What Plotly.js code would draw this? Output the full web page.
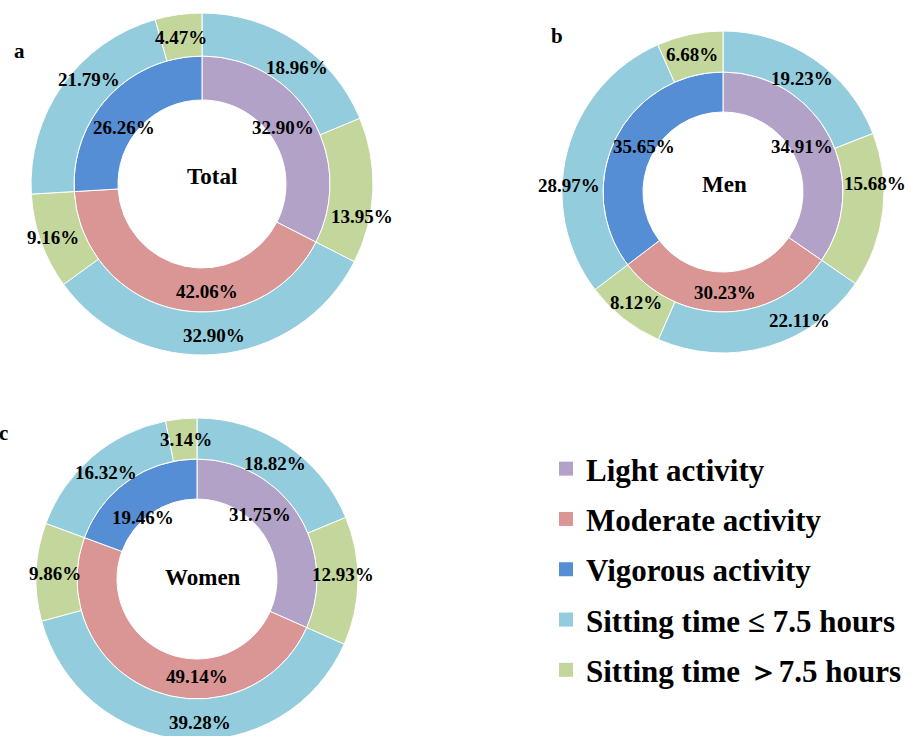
<!DOCTYPE html>
<html>
<head>
<meta charset="utf-8">
<script src="https://cdn.plot.ly/plotly-3.0.1.min.js"></script>
<style>
  html, body { margin: 0; padding: 0; background: #fff; overflow: hidden; }
  #chart { width: 911px; height: 745px; }
</style>
</head>
<body>
<div id="chart"></div>
<script>
// Physical activity level (inner ring) split by daily sitting time (outer ring), %
const activityLabels = ['Light activity', 'Moderate activity', 'Vigorous activity'];
const sittingLabels = ['Sitting time \u2264 7.5 hours', 'Sitting time \uFF1E7.5 hours'];

const totalActivity = [32.90, 42.06, 26.26];
const totalSitting  = [18.96, 13.95, 32.90, 9.16, 21.79, 4.47];

const menActivity = [34.91, 30.23, 35.65];
const menSitting  = [19.23, 15.68, 22.11, 8.12, 28.97, 6.68];

const womenActivity = [31.75, 49.14, 19.46];
const womenSitting  = [18.82, 12.93, 39.28, 9.86, 16.32, 3.14];

const activityColors = ['#B3A2C7', '#D99694', '#558ED5'];
const sittingColors = ['#93CDDD', '#C3D69B'];

const W = 911, H = 745;
const serif = 'Liberation Serif, Times New Roman, serif';

// panel geometry in pixels: centre, outer radius, ring boundary, hole radius,
// plus small pixel shifts applied to the value labels / centre title
const panels = [
  {title: 'Total', tag: 'a', inner: totalActivity, outer: totalSitting,
   cx: 202, cy: 184, rOut: 171, rMid: 128, rHole: 84, tagX: 19, tagY: 51,
   titleShift: [10, -7],
   innerShift: [[-8, -2], [26, 6], [-2, 15]],
   outerShift: [[12, 8], [11, 27], [0, 2], [-8, 3], [9, -18], [0, 2]]},
  {title: 'Men', tag: 'b', inner: menActivity, outer: menSitting,
   cx: 723, cy: 192, rOut: 161, rMid: 120, rHole: 80, tagX: 557, tagY: 36,
   titleShift: [1, -7],
   innerShift: [[-8, 0], [0, 3], [9, -2]],
   outerShift: [[0, 3], [12, -25], [38, -7], [0, 0], [-18, 28], [-2, 0]]},
  {title: 'Women', tag: 'c', inner: womenActivity, outer: womenSitting,
   cx: 197, cy: 579, rOut: 161, rMid: 120, rHole: 80, tagX: 3, tagY: 433,
   titleShift: [6, -2],
   innerShift: [[-19, -11], [37, 7], [2, 19]],
   outerShift: [[0, 1], [6, -6], [14, 3], [-2, 1], [0, 0], [3, 0]]}
];

function domainOf(cx, cy, r) {
  return {x: [(cx - r) / W, (cx + r) / W], y: [1 - (cy + r) / H, 1 - (cy - r) / H]};
}

function textAt(px, py, text, size) {
  return {
    x: px / W, y: 1 - py / H, xref: 'paper', yref: 'paper',
    xanchor: 'center', yanchor: 'middle', showarrow: false, text: text,
    font: {family: serif, size: size, weight: 700, color: '#000'}
  };
}

// value labels placed around the middle angle of each slice
function ringLabels(values, cx, cy, r, shifts) {
  const sum = values.reduce((a, b) => a + b, 0);
  let cum = 0;
  return values.map((v, i) => {
    const a = 2 * Math.PI * (cum + v / 2) / sum;
    cum += v;
    const s = shifts[i];
    return textAt(cx + r * Math.sin(a) + s[0], cy - r * Math.cos(a) + s[1], v.toFixed(2) + '%', 19);
  });
}

const outerLabels = [];
const outerColors = [];
activityLabels.forEach(a => sittingLabels.forEach((s, j) => {
  outerLabels.push(a + ' / ' + s);
  outerColors.push(sittingColors[j]);
}));

const traces = [];
const annotations = [];

panels.forEach(p => {
  traces.push({
    type: 'pie', values: p.inner, labels: activityLabels,
    domain: domainOf(p.cx, p.cy, p.rMid), hole: p.rHole / p.rMid,
    sort: false, direction: 'clockwise', rotation: 0,
    marker: {colors: activityColors, line: {color: '#fff', width: 1}},
    textinfo: 'none', hoverinfo: 'skip', showlegend: false
  });
  traces.push({
    type: 'pie', values: p.outer, labels: outerLabels,
    domain: domainOf(p.cx, p.cy, p.rOut), hole: p.rMid / p.rOut,
    sort: false, direction: 'clockwise', rotation: 0,
    marker: {colors: outerColors, line: {color: '#fff', width: 1}},
    textinfo: 'none', hoverinfo: 'skip', showlegend: false
  });
  annotations.push(...ringLabels(p.inner, p.cx, p.cy, p.rHole + 0.45 * (p.rMid - p.rHole), p.innerShift));
  annotations.push(...ringLabels(p.outer, p.cx, p.cy, (p.rMid + p.rOut) / 2, p.outerShift));
  annotations.push(textAt(p.cx + p.titleShift[0], p.cy + p.titleShift[1], p.title, 23));
  annotations.push(textAt(p.tagX, p.tagY, p.tag, 21));
});

// legend entries
const legendNames = activityLabels.concat(sittingLabels);
const legendColors = activityColors.concat(sittingColors);
legendNames.forEach((name, i) => {
  traces.push({
    type: 'scatter', x: [null], y: [null], mode: 'markers', name: name,
    legendgroup: 'g' + i, hoverinfo: 'skip',
    marker: {symbol: 'square', size: 14, color: legendColors[i]}
  });
});

const layout = {
  width: W, height: H,
  margin: {l: 0, r: 0, t: 0, b: 0},
  paper_bgcolor: '#fff', plot_bgcolor: '#fff',
  xaxis: {visible: false}, yaxis: {visible: false},
  showlegend: true,
  legend: {
    x: 546 / W, xanchor: 'left', y: 1 - 442 / H, yanchor: 'top',
    traceorder: 'grouped', tracegroupgap: 7,
    bgcolor: 'rgba(0,0,0,0)',
    font: {family: serif, size: 31, weight: 700, color: '#000'}
  },
  annotations: annotations
};

Plotly.newPlot('chart', traces, layout, {staticPlot: true, displayModeBar: false});
</script>
</body>
</html>
